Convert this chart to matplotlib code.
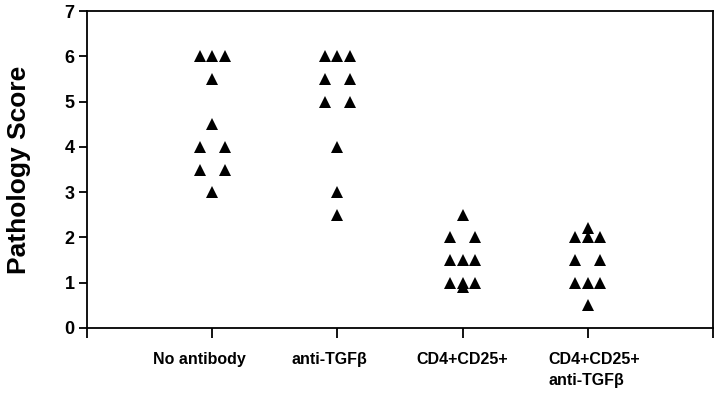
import matplotlib
matplotlib.use("Agg")
import matplotlib.pyplot as plt

plt.rcParams["font.family"] = ["Liberation Sans", "DejaVu Sans"]
plt.rcParams["font.weight"] = "bold"

GROUPS = ["No antibody", "anti-TGF\u03b2", "CD4+CD25+", "CD4+CD25+\nanti-TGF\u03b2"]

# pathology scores per mouse, with the column slot (-1 left, 0 middle, 1 right)
NO_AB = [6, 6, 6, 5.5, 4.5, 4, 4, 3.5, 3.5, 3]
NO_AB_SLOT = [-1, 0, 1, 0, 0, -1, 1, -1, 1, 0]
ANTI_TGFB = [6, 6, 6, 5.5, 5.5, 5, 5, 4, 3, 2.5]
ANTI_TGFB_SLOT = [-1, 0, 1, -1, 1, -1, 1, 0, 0, 0]
TREG = [2.5, 2, 2, 1.5, 1.5, 1.5, 1, 1, 1, 0.9]
TREG_SLOT = [0, -1, 1, -1, 0, 1, -1, 0, 1, 0]
TREG_ANTI = [2.2, 2, 2, 2, 1.5, 1.5, 1, 1, 1, 0.5]
TREG_ANTI_SLOT = [0, -1, 0, 1, -1, 1, -1, 0, 1, 0]

SERIES = [(NO_AB, NO_AB_SLOT), (ANTI_TGFB, ANTI_TGFB_SLOT),
          (TREG, TREG_SLOT), (TREG_ANTI, TREG_ANTI_SLOT)]
SPREAD = 0.1
LABEL_SHIFT_PT = [-9, -6, 0, 5]   # category labels sit a little off their ticks

fig = plt.figure(figsize=(7.2, 4.0), dpi=100)
ax = fig.add_axes([0.121, 0.18, 0.869, 0.7925])

for i, (vals, slots) in enumerate(SERIES):
    xs = [i + 1 + s * SPREAD for s in slots]
    ax.plot(xs, vals, linestyle="none", marker="^", markersize=8.7,
            color="black", markeredgewidth=0)

ax.set_xlim(0, 5)
ax.set_ylim(0, 7)
ax.set_xticks(range(0, 6))
ax.set_xticklabels([])
for i, (name, dx) in enumerate(zip(GROUPS, LABEL_SHIFT_PT)):
    ax.annotate(name, xy=(i + 1, 0), xycoords=("data", "axes fraction"),
                xytext=(dx, -17), textcoords="offset points",
                ha="center", va="top", fontsize=11.5, fontweight="bold",
                multialignment="left", linespacing=1.55)

ax.set_yticks(range(0, 8))
ax.set_yticklabels([str(v) for v in range(0, 8)], fontsize=13, fontweight="bold")
ax.tick_params(axis="x", direction="out", length=7, width=1.3)
ax.tick_params(axis="y", direction="out", length=6, width=1.3, pad=3)
for sp in ax.spines.values():
    sp.set_linewidth(1.3)

ax.set_ylabel("Pathology Score", fontsize=19, fontweight="bold", labelpad=24)

fig.savefig("out.png", dpi=100)
